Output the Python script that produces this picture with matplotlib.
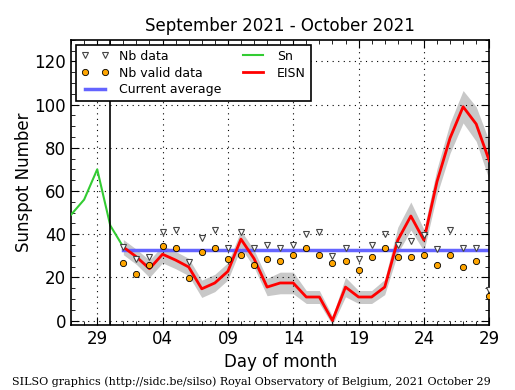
import numpy as np
import pandas as pd
import matplotlib
matplotlib.use("Agg")
import matplotlib.pyplot as plt
import matplotlib.dates as mdates
from matplotlib.ticker import MultipleLocator

# ------------------------------------------------------------------
# DATA
# ------------------------------------------------------------------
sn_dates = pd.date_range("2021-09-27", "2021-10-01")
sn_values = [49, 56, 70, 44, 34]

days = pd.date_range("2021-10-01", "2021-10-29")
eisn = [34, 29.5, 24, 30.7, 28, 24.8, 14.7, 17.4, 22.8, 37.7,
        28.7, 15.5, 17.4, 17.4, 10.9, 10.9, 0, 15.5, 10.9, 10.9,
        15.5, 37.2, 48.4, 37.2, 64.3, 84.5, 99, 91, 74]
eisn_err = [3.5, 3.5, 4, 4, 4, 4, 4, 4, 4, 4,
            4, 4, 5, 5, 3, 3, 2, 4.5, 3, 3,
            3.5, 6, 6.5, 5, 6, 7, 7.5, 8, 9]
nb_data = [34, 28.7, 29.5, 41, 41.9, 27, 38, 41.9, 33.8, 41,
           33.8, 34.9, 33.8, 34.9, 40, 41, 29.8, 33.8, 28.7, 34.9,
           40, 34.9, 36.7, 39.4, 32.9, 41.9, 33.8, 33.8, 14.3]
nb_valid = [26.7, 21.7, 25.6, 34.6, 33.6, 19.8, 31.8, 33.6, 28.5, 30.4,
            25.9, 28.5, 27.6, 30.4, 33.6, 30.4, 26.7, 27.6, 23.6, 29.5,
            33.6, 29.5, 29.5, 30.4, 25.6, 30.4, 24.8, 27.6, 11.2]
current_avg = 32.6

lo = np.array(eisn) - np.array(eisn_err)
hi = np.array(eisn) + np.array(eisn_err)

# ------------------------------------------------------------------
# CHART
# ------------------------------------------------------------------
fig = plt.figure(figsize=(5.15, 3.9), dpi=100)
ax = fig.add_axes([0.138, 0.167, 0.812, 0.731])

ax.fill_between(days, lo, hi, color="#c8c8c8", lw=0, zorder=1)
ax.plot(days, [current_avg] * len(days), color="#6464ff", lw=2.5,
        label="Current average", zorder=2)
ax.plot(days, eisn, color="red", lw=2, label="EISN", zorder=3)
ax.plot(sn_dates, sn_values, color="#33cc33", lw=1.5, label="Sn", zorder=3)
ax.plot(days, nb_data, "v", ms=4.5, mfc="white", mec="#444444", mew=0.8,
        ls="none", label="Nb data", zorder=4)
ax.plot(days, nb_valid, "o", ms=4.5, mfc="#ffa500", mec="black", mew=0.6,
        ls="none", label="Nb valid data", zorder=4)
ax.axvline(pd.Timestamp("2021-09-30"), color="black", lw=1.2, zorder=3)

ax.set_xlim(pd.Timestamp("2021-09-27"), pd.Timestamp("2021-10-29"))
ax.set_ylim(-2, 130)
ax.xaxis.set_major_locator(mdates.DayLocator(bymonthday=[4, 9, 14, 19, 24, 29]))
ax.xaxis.set_major_formatter(mdates.DateFormatter("%d"))
ax.xaxis.set_minor_locator(mdates.DayLocator())
ax.yaxis.set_major_locator(MultipleLocator(20))
ax.yaxis.set_minor_locator(MultipleLocator(5))
ax.tick_params(which="both", direction="in", top=True, right=True, labelsize=12)
ax.tick_params(which="major", length=6)
ax.tick_params(which="minor", length=3)
ax.grid(True, which="major", color="black", ls=(0, (1, 4)), lw=0.8)
for s in ax.spines.values():
    s.set_linewidth(1.2)

ax.set_title("September 2021 - October 2021", fontsize=12)
ax.set_xlabel("Day of month", fontsize=12)
ax.set_ylabel("Sunspot Number", fontsize=12, labelpad=1)

h, l = ax.get_legend_handles_labels()
order = [l.index(n) for n in ["Nb data", "Nb valid data", "Current average", "Sn", "EISN"]]
leg = ax.legend([h[i] for i in order], [l[i] for i in order], loc="upper left",
                ncol=2, numpoints=2, fontsize=9, fancybox=False, framealpha=1,
                edgecolor="black", borderaxespad=0.4, handlelength=2.2,
                columnspacing=1.5, labelspacing=0.3)
leg.get_frame().set_linewidth(1.2)

fig.text(0.023, 0.012, "SILSO graphics (http://sidc.be/silso) Royal Observatory of Belgium, 2021 October 29",
         family="DejaVu Serif", fontsize=8)

plt.savefig("out.png", dpi=100)
plt.close()
